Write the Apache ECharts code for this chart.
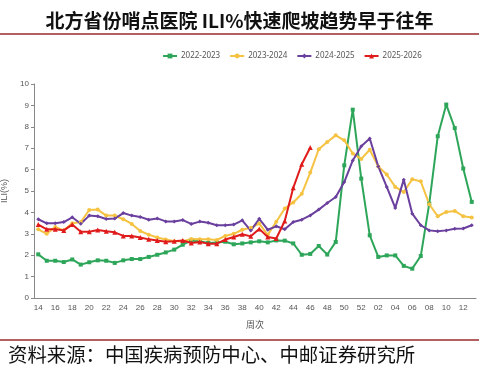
<!DOCTYPE html>
<html><head><meta charset="utf-8">
<script src="https://cdn.jsdelivr.net/npm/echarts@6/dist/echarts.min.js"></script>
<style>html,body{margin:0;padding:0;background:#fff}#c{width:479px;height:372px}</style>
</head><body><div id="c"></div>
<script>
const weeks = ["14","15","16","17","18","19","20","21","22","23","24","25","26","27","28","29","30","31","32","33","34","35","36","37","38","39","40","41","42","43","44","45","46","47","48","49","50","51","52","01","02","03","04","05","06","07","08","09","10","11","12","13"];
const s2022 = [2.04,1.74,1.74,1.68,1.80,1.56,1.67,1.76,1.74,1.64,1.76,1.82,1.82,1.92,2.02,2.13,2.26,2.49,2.68,2.65,2.57,2.59,2.63,2.51,2.55,2.60,2.65,2.60,2.69,2.68,2.55,2.02,2.06,2.43,2.03,2.62,6.20,8.80,5.58,2.93,1.92,1.99,1.99,1.50,1.37,1.96,4.41,7.56,9.04,7.94,6.05,4.49];
const s2023 = [3.21,3.00,3.32,3.16,3.49,3.55,4.11,4.13,3.85,3.85,3.68,3.46,3.13,2.96,2.83,2.73,2.65,2.65,2.76,2.74,2.74,2.71,2.90,3.00,3.19,3.28,3.48,2.95,3.56,4.18,4.46,4.87,5.86,6.95,7.29,7.60,7.37,6.75,6.50,6.93,6.15,5.77,5.19,4.95,5.55,5.45,4.38,3.82,4.02,4.07,3.82,3.76];
const s2024 = [3.68,3.49,3.49,3.55,3.77,3.47,3.85,3.82,3.69,3.71,3.97,3.85,3.79,3.66,3.72,3.58,3.58,3.64,3.46,3.57,3.52,3.40,3.40,3.43,3.63,3.15,3.70,3.19,3.35,3.21,3.55,3.66,3.86,4.13,4.44,4.72,5.42,6.43,7.09,7.45,6.15,5.19,4.21,5.53,3.94,3.40,3.16,3.12,3.16,3.24,3.25,3.40];
const s2025 = [3.43,3.21,3.21,3.16,3.43,3.10,3.10,3.18,3.12,3.07,2.90,2.90,2.83,2.74,2.69,2.63,2.65,2.69,2.57,2.62,2.54,2.54,2.73,2.85,2.98,2.88,3.23,2.85,2.78,3.60,5.15,6.25,7.03];
const seriesNames = ["2022-2023","2023-2024","2024-2025","2025-2026"];
const yTicks = [0,10,1];

const colors = ["#2ea65a","#f5c242","#6a3f9e","#e01b1b"];
const symbols = ["rect","circle","diamond","triangle"];
const datas = [s2022,s2023,s2024,s2025];

const chart = echarts.init(document.getElementById('c'), null, {renderer:'canvas'});
chart.setOption({
  animation:false,
  backgroundColor:'#fff',
  title:{text:'北方省份哨点医院 ILI%快速爬坡趋势早于往年', left:'center', top:6,
    textStyle:{fontFamily:'Noto Sans CJK SC', fontWeight:'bold', fontSize:19, color:'#111'}},
  legend:{top:47, left:157, itemWidth:14, itemHeight:6, itemGap:9,
    textStyle:{fontSize:8, color:'#555', fontFamily:'Noto Sans', padding:[0,0,0,-1]},
    data:seriesNames},
  grid:{left:34, right:3, top:84, bottom:74, containLabel:false, outerBoundsMode:'none'},
  xAxis:{type:'category', data:weeks, boundaryGap:true, name:'周次', nameLocation:'middle', nameGap:22,
    nameTextStyle:{fontSize:9, color:'#555', fontFamily:'Noto Sans CJK SC'},
    axisLine:{lineStyle:{color:'#888'}},
    axisTick:{alignWithLabel:true, interval:1, length:3, lineStyle:{color:'#888'}},
    axisLabel:{interval:1, fontSize:8, color:'#555', margin:6}},
  yAxis:{type:'value', min:yTicks[0], max:yTicks[1], interval:yTicks[2], name:'ILI(%)', nameLocation:'middle', nameGap:18,
    nameTextStyle:{fontSize:9, color:'#555'},
    axisLine:{show:true, lineStyle:{color:'#888'}},
    axisTick:{show:true, length:3, lineStyle:{color:'#888'}},
    axisLabel:{fontSize:8, color:'#555', margin:5},
    splitLine:{show:false}},
  series: seriesNames.map((n,i)=>({name:n, type:'line', data:datas[i], symbol:symbols[i],
    symbolSize: i===3?5:4, showAllSymbol:true,
    lineStyle:{width:2, color:colors[i]}, itemStyle:{color:colors[i]}, z: i===3?5:2})),
  graphic:[
    {type:'line', shape:{x1:0,y1:34,x2:479,y2:34}, style:{stroke:'#9b2a2e', lineWidth:1.5}},
    {type:'line', shape:{x1:0,y1:340,x2:479,y2:340}, style:{stroke:'#9b2a2e', lineWidth:1.5}},
    {type:'text', left:8, top:345, style:{text:'资料来源：中国疾病预防中心、中邮证券研究所', fontSize:19.4, fill:'#111', fontFamily:'Noto Sans CJK SC'}}
  ]
});
</script></body></html>
